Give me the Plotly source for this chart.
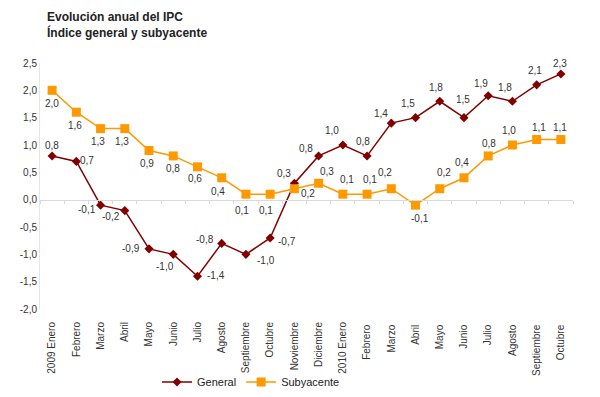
import plotly.graph_objects as go

months = ["2009 Enero", "Febrero", "Marzo", "Abril", "Mayo", "Junio", "Julio", "Agosto",
          "Septiembre", "Octubre", "Noviembre", "Diciembre", "2010 Enero", "Febrero ", "Marzo ",
          "Abril ", "Mayo ", "Junio ", "Julio ", "Agosto ", "Septiembre ", "Octubre "]
general = [0.8, 0.7, -0.1, -0.2, -0.9, -1.0, -1.4, -0.8, -1.0, -0.7, 0.3, 0.8,
           1.0, 0.8, 1.4, 1.5, 1.8, 1.5, 1.9, 1.8, 2.1, 2.3]
subyacente = [2.0, 1.6, 1.3, 1.3, 0.9, 0.8, 0.6, 0.4, 0.1, 0.1, 0.2, 0.3,
              0.1, 0.1, 0.2, -0.1, 0.2, 0.4, 0.8, 1.0, 1.1, 1.1]
y_tickvals = [2.5, 2.0, 1.5, 1.0, 0.5, 0.0, -0.5, -1.0, -1.5, -2.0]
title_lines = ["Evolución anual del IPC", "Índice general y subyacente"]

# label offsets in screen pixels (dx right, dy down)
gen_off = [(0, -10), (11, -1), (-14, 4), (-14, 6), (-18, 0), (-8, 12), (19, -1), (-17, -4),
           (20, 6), (17, 4), (-10, -10), (-13, -7), (-11, -15), (-4, -14), (-10, -10), (-8, -14),
           (-4, -14), (-1, -18), (-7, -12), (-7, -14), (-2, -14), (-1, -10)]
sub_off = [(0, 13), (-1, 13), (-3, 13), (-3, 13), (-2, 13), (0, 13), (-2, 12), (-4, 14),
           (-4, 16), (-4, 16), (14, 5), (8, -12), (4, -15), (3, -15), (-6, -16), (4, 13),
           (4, -16), (-2, -15), (1, -12), (-3, -15), (2, -12), (-1, -12)]


def fmt(v):
    return f"{v:.1f}".replace(".", ",")


C_GEN = "#800000"
C_SUB = "#FF9900"
TXT = "#333333"
OFF = 8            # page body margin
W, H = 600 - OFF, 397 - OFF
PLOT_H = 246
PLOT_W = 533
Y_RANGE = [-2.0, 2.5]

fig = go.Figure()
fig.add_trace(go.Scatter(x=months, y=general, name="General", mode="lines+markers",
                         line=dict(color=C_GEN, width=1.5),
                         marker=dict(symbol="diamond", size=7, color=C_GEN)))
fig.add_trace(go.Scatter(x=months, y=subyacente, name="Subyacente", mode="lines+markers",
                         line=dict(color=C_SUB, width=1.5),
                         marker=dict(symbol="square", size=9, color=C_SUB)))
# carrier trace for the zero-line axis
fig.add_trace(go.Scatter(x=months, y=[0] * len(months), xaxis="x2", mode="lines",
                         line=dict(width=0), showlegend=False, hoverinfo="skip"))

annotations = []
for i, m in enumerate(months):
    dx, dy = gen_off[i]
    annotations.append(dict(x=m, y=general[i], text=fmt(general[i]), showarrow=False,
                            xshift=dx, yshift=-dy, font=dict(size=10, color=TXT)))
    dx, dy = sub_off[i]
    annotations.append(dict(x=m, y=subyacente[i], text=fmt(subyacente[i]), showarrow=False,
                            xshift=dx, yshift=-dy, font=dict(size=10, color=TXT)))
for k, (line, ypx) in enumerate(zip(title_lines, [17, 32])):
    annotations.append(dict(xref="paper", yref="paper", x=(45 - 40) / PLOT_W,
                            y=1 + (63 - ypx) / PLOT_H, xanchor="left", yanchor="middle",
                            text=f"<b>{line}</b>", showarrow=False,
                            font=dict(size=12, color="#222222")))

fig.update_layout(
    width=W, height=H,
    margin=dict(l=40 - OFF, r=600 - 573, t=63 - OFF, b=397 - 309, autoexpand=False),
    plot_bgcolor="white", paper_bgcolor="white",
    font=dict(family="Liberation Sans, Arial, sans-serif", size=10, color=TXT),
    xaxis=dict(type="category", categoryarray=months, range=[-0.5, 21.5],
               tickangle=-90, showgrid=False, showline=False, zeroline=False,
               ticks="", ticklabelstandoff=10, automargin=False,
               tickfont=dict(size=10, color=TXT)),
    xaxis2=dict(type="category", categoryarray=months, range=[-0.5, 21.5],
                overlaying="x", anchor="free", position=2.0 / 4.5, side="bottom",
                showline=True, linecolor="#d9d9d9", linewidth=1, ticks="outside",
                tickson="boundaries", ticklen=3, tickcolor="#d9d9d9",
                showticklabels=False, showgrid=False, zeroline=False),
    yaxis=dict(range=Y_RANGE, tickvals=y_tickvals, ticktext=[fmt(v) for v in y_tickvals],
               ticksuffix="\u00a0\u00a0",
               showgrid=False, zeroline=False, showline=True, linecolor="#e6e6e6",
               ticks="", automargin=False, tickfont=dict(size=10, color=TXT)),
    legend=dict(orientation="h", x=(157 - OFF) / W, xref="container", xanchor="left",
                y=1 - (382 - OFF) / H, yref="container", yanchor="middle", itemwidth=30,
                bgcolor="rgba(0,0,0,0)",
                font=dict(size=11, color="#222222")),
    annotations=annotations,
    showlegend=True,
)

fig.write_html("out.html")
